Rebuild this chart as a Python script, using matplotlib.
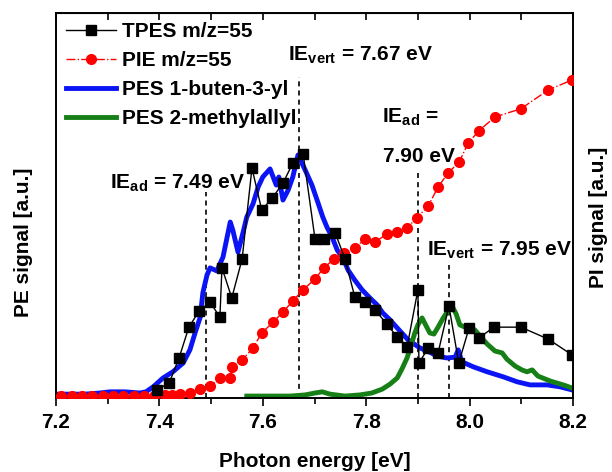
import numpy as np
import matplotlib
matplotlib.use("Agg")
import matplotlib.pyplot as plt

plt.rcParams['font.family'] = ['Liberation Sans', 'DejaVu Sans']
plt.rcParams['font.weight'] = 'bold'
plt.rcParams['axes.labelweight'] = 'bold'
plt.rcParams['font.size'] = 15
plt.rcParams['mathtext.fontset'] = 'custom'
plt.rcParams['mathtext.rm'] = 'Liberation Sans:bold'
plt.rcParams['mathtext.bf'] = 'Liberation Sans:bold'

# TPES m/z=55 (black squares)
tpes_e = [7.395, 7.419, 7.438, 7.457, 7.477, 7.498, 7.517, 7.521, 7.540, 7.560,
          7.579, 7.598, 7.618, 7.639, 7.658, 7.678, 7.701, 7.718, 7.740, 7.759,
          7.778, 7.798, 7.817, 7.840, 7.860, 7.879, 7.900, 7.902, 7.920, 7.939,
          7.960, 7.979, 7.999, 8.018, 8.047, 8.099, 8.152, 8.198]
tpes_y = [0.021, 0.039, 0.104, 0.184, 0.226, 0.249, 0.210, 0.338, 0.260, 0.361,
          0.597, 0.488, 0.519, 0.558, 0.610, 0.634, 0.413, 0.413, 0.429, 0.361,
          0.262, 0.249, 0.229, 0.192, 0.158, 0.132, 0.281, 0.091, 0.130, 0.117,
          0.239, 0.091, 0.182, 0.156, 0.184, 0.184, 0.153, 0.112]

# PIE m/z=55 (red circles)
pie_e = [7.21, 7.23, 7.25, 7.27, 7.29, 7.31, 7.33, 7.35, 7.37, 7.39, 7.41, 7.425,
         7.440, 7.459, 7.479, 7.498, 7.517, 7.537, 7.540, 7.560, 7.581, 7.598,
         7.620, 7.639, 7.658, 7.678, 7.701, 7.718, 7.738, 7.757, 7.778, 7.798,
         7.817, 7.840, 7.860, 7.879, 7.898, 7.920, 7.939, 7.958, 7.980, 7.997,
         8.018, 8.049, 8.099, 8.152, 8.198]
pie_y = [0.005, 0.005, 0.005, 0.005, 0.005, 0.005, 0.005, 0.005, 0.005, 0.005, 0.007, 0.008,
         0.010, 0.013, 0.023, 0.031, 0.052, 0.052, 0.081, 0.099, 0.130, 0.169,
         0.197, 0.223, 0.252, 0.281, 0.309, 0.338, 0.361, 0.377, 0.390, 0.413,
         0.405, 0.426, 0.431, 0.442, 0.468, 0.499, 0.548, 0.584, 0.613, 0.662,
         0.694, 0.730, 0.751, 0.800, 0.826]

# PES 1-buten-3-yl (blue)
b_e = [7.200, 7.227, 7.256, 7.285, 7.304, 7.333, 7.362, 7.374, 7.388, 7.407,
       7.426, 7.446, 7.459, 7.469, 7.479, 7.484, 7.492, 7.498, 7.511, 7.523,
       7.537, 7.542, 7.552, 7.562, 7.569, 7.581, 7.591, 7.600, 7.614, 7.626,
       7.631, 7.639, 7.649, 7.658, 7.668, 7.682, 7.695, 7.707, 7.716, 7.724,
       7.734, 7.744, 7.755, 7.765, 7.778, 7.792, 7.807, 7.821, 7.832, 7.846,
       7.860, 7.881, 7.904, 7.923, 7.937, 7.956, 7.972, 7.978, 7.985, 8.007,
       8.034, 8.065, 8.092, 8.117, 8.150, 8.175, 8.198]
b_y = [0.010, 0.010, 0.010, 0.013, 0.016, 0.016, 0.013, 0.016, 0.029, 0.052,
       0.068, 0.091, 0.125, 0.169, 0.210, 0.273, 0.319, 0.338, 0.330, 0.366,
       0.457, 0.436, 0.379, 0.431, 0.470, 0.504, 0.548, 0.574, 0.595, 0.553,
       0.574, 0.514, 0.540, 0.574, 0.631, 0.592, 0.553, 0.506, 0.470, 0.444,
       0.418, 0.384, 0.364, 0.332, 0.306, 0.281, 0.260, 0.242, 0.221, 0.203,
       0.182, 0.151, 0.130, 0.119, 0.109, 0.104, 0.106, 0.125, 0.094, 0.081,
       0.068, 0.055, 0.042, 0.034, 0.034, 0.029, 0.021]

# PES 2-methylallyl (green)
g_e = [7.569, 7.614, 7.653, 7.682, 7.701, 7.715, 7.730, 7.759, 7.788, 7.811,
       7.831, 7.846, 7.860, 7.869, 7.879, 7.887, 7.894, 7.900, 7.908, 7.916,
       7.923, 7.931, 7.939, 7.949, 7.958, 7.966, 7.974, 7.981, 7.991, 8.001,
       8.010, 8.020, 8.034, 8.049, 8.063, 8.072, 8.088, 8.101, 8.111, 8.121,
       8.132, 8.156, 8.181, 8.198]
g_y = [0.005, 0.005, 0.005, 0.008, 0.013, 0.016, 0.010, 0.005, 0.008, 0.013,
       0.023, 0.036, 0.052, 0.075, 0.104, 0.138, 0.169, 0.190, 0.208, 0.187,
       0.169, 0.166, 0.184, 0.208, 0.226, 0.239, 0.218, 0.190, 0.184, 0.179,
       0.177, 0.161, 0.140, 0.122, 0.117, 0.101, 0.083, 0.073, 0.068, 0.073,
       0.057, 0.044, 0.034, 0.026]

# ionization energies (x, top of dashed line)
ie_x = [7.49, 7.67, 7.90, 7.96]
ie_top = [0.535, 0.834, 0.587, 0.345]

fig = plt.figure(figsize=(6.12, 4.72), dpi=100)
ax = fig.add_axes([0.0915, 0.1568, 0.8448, 0.8157])

ax.plot(b_e, b_y, color='#0a14f5', lw=3.5, label='PES 1-buten-3-yl', zorder=2)
ax.plot(g_e, g_y, color='#168016', lw=3.5, label='PES 2-methylallyl', zorder=2)
ax.plot(pie_e, pie_y, color='red', ls='-.', lw=1, marker='o', ms=7,
        label='PIE m/z=55', zorder=3)
ax.plot(tpes_e, tpes_y, color='black', lw=1, marker='s', ms=6.5,
        label='TPES m/z=55', zorder=4)

for x, t in zip(ie_x, ie_top):
    ax.plot([x, x], [0, t], color='black', ls=(0, (3, 2.5)), lw=1.2, zorder=1)

ax.text(7.649, 0.878, r'IE$_{\rm vert}$ = 7.67 eV', ha='left', va='baseline')
ax.text(7.304, 0.545, r'IE$_{\rm ad}$ = 7.49 eV', ha='left', va='baseline')
ax.text(7.831, 0.717, r'IE$_{\rm ad}$ =', ha='left', va='baseline')
ax.text(7.833, 0.613, '7.90 eV', ha='left', va='baseline')
ax.text(7.918, 0.371, r'IE$_{\rm vert}$ = 7.95 eV', ha='left', va='baseline')

ax.set_xlim(7.2, 8.2)
ax.set_ylim(0, 1)
ax.set_xticks(np.arange(7.2, 8.21, 0.2))
ax.set_xticklabels(['7.2', '7.4', '7.6', '7.8', '8.0', '8.2'])
ax.set_xticks(np.arange(7.3, 8.2, 0.2), minor=True)
ax.tick_params(axis='x', which='major', direction='out', length=6, width=1.2, pad=5)
ax.tick_params(axis='x', which='minor', direction='out', length=4, width=1.2)
ax.set_yticks([])

top = ax.secondary_xaxis('top')
top.set_xticks(np.arange(7.2, 8.21, 0.1))
top.tick_params(direction='in', length=5, width=1.2, labeltop=False)

for s in ax.spines.values():
    s.set_linewidth(1.4)

ax.set_xlabel('Photon energy [eV]', labelpad=14)
ax.set_ylabel('PE signal [a.u.]')
ax.yaxis.set_label_coords(-0.045, 0.405)
fig.text(0.962, 0.54, 'PI signal [a.u.]', rotation=90, ha='left', va='center',
         fontweight='bold')

h, l = ax.get_legend_handles_labels()
order = [3, 2, 0, 1]
ax.legend([h[i] for i in order], [l[i] for i in order], loc='upper left',
          bbox_to_anchor=(-0.005, 1.008), frameon=False, handlelength=2.4,
          handletextpad=0.3, labelspacing=0.48, borderaxespad=0.2)

fig.savefig('out.png', dpi=100)
